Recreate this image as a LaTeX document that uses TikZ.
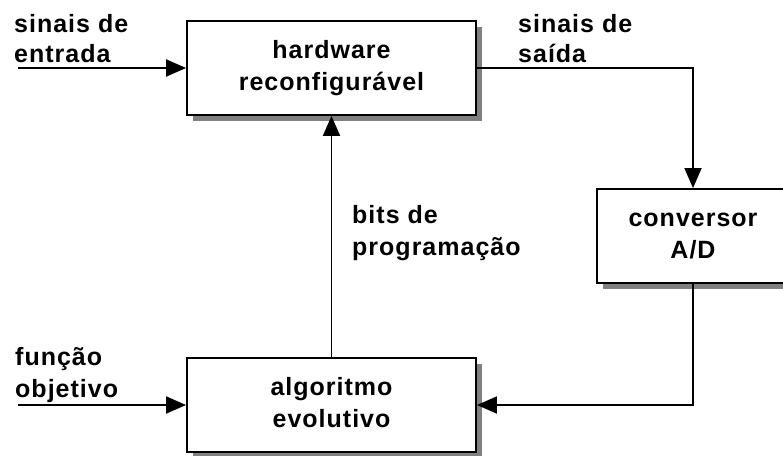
\documentclass[tikz,border=0pt]{standalone}
\usepackage{fontspec}
\setmainfont[LetterSpace=4]{Liberation Sans}
\usetikzlibrary{arrows.meta,shadows}
\definecolor{shadowgray}{RGB}{128,128,128}
\begin{document}
\begin{tikzpicture}[x=1pt,y=-1pt,
  txt/.style={font=\bfseries\fontsize{25}{32}\selectfont},
  blockbox/.style={txt,draw,line width=1.9pt,fill=white,align=center,inner sep=0pt,
    minimum height=94pt,
    drop shadow={shadow xshift=6pt,shadow yshift=-6pt,fill=shadowgray,opacity=1}},
  lbl/.style={txt,anchor=north west,inner sep=0pt,align=left},
  arr/.style={line width=1.9pt,-{Triangle[length=20pt,width=17pt]}}]
\clip (0,0) rectangle (783,455);
\fill[white] (0,0) rectangle (783,455);

\node[blockbox,minimum width=289pt] (hw) at (331.5,68) {\strut hardware\\\strut reconfigurável};
\node[blockbox,minimum width=192pt] (ad) at (693,236) {\strut conversor\\\strut A/D};
\node[blockbox,minimum width=289pt] (ae) at (331.5,405) {\strut algoritmo\\\strut evolutivo};

\coordinate (in1) at (18,68);
\coordinate (in2) at (18,405);

\draw[arr] (in1) -- (hw.west);
\draw[arr] (in2) -- (ae.west);
\draw[arr] (hw.east) -| (ad.north);
\draw[arr] (ad.south) |- (ae.east);
\draw[arr] (ae.north) -- (hw.south);

\node[lbl] (l1) at (14,9.6) {\strut sinais de\\[-2pt]\strut entrada};
\node[lbl] (l2) at (518,9.6) {\strut sinais de\\[-2pt]\strut saída};
\node[lbl] (l3) at (15,342.6) {\strut função\\\strut objetivo};
\node[lbl] (l4) at (352,200.6) {\strut bits de\\\strut programação};
\end{tikzpicture}
\end{document}
